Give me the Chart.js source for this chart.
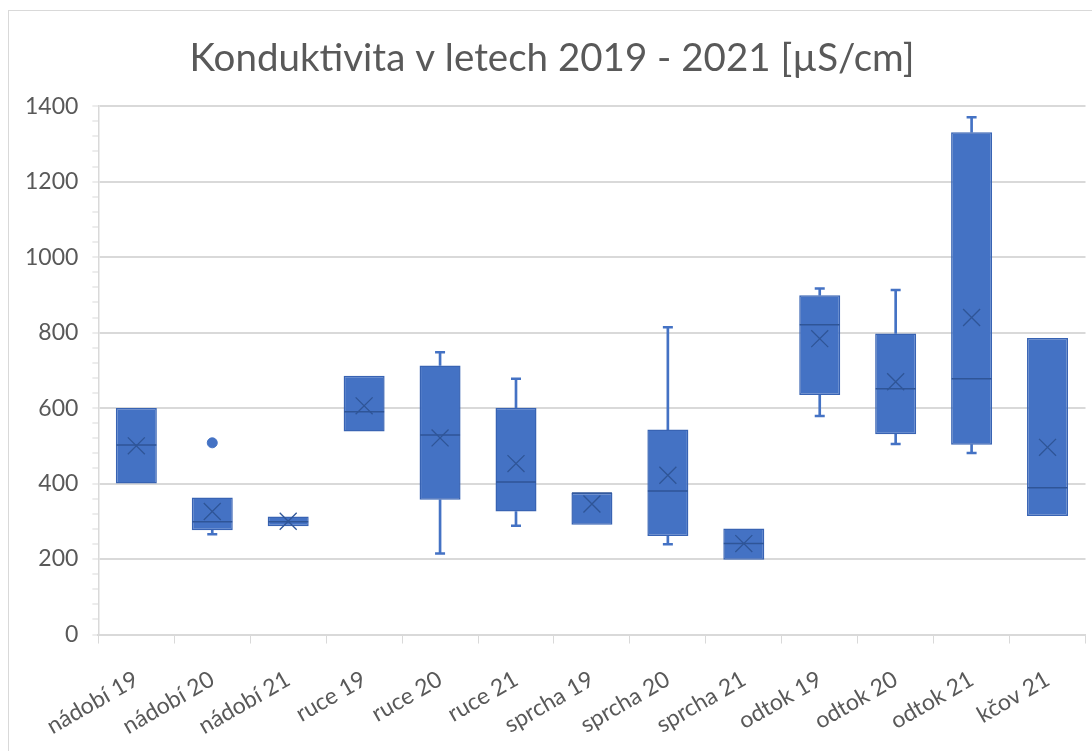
<!DOCTYPE html>
<html>
<head>
<meta charset="utf-8">
<script src="https://cdn.jsdelivr.net/npm/chart.js@4.4.1/dist/chart.umd.min.js"></script>
<style>
  html, body { margin: 0; padding: 0; background: #fff; overflow: hidden; }
  #frame { position: absolute; left: 8px; top: 10px; width: 1200px; height: 900px; border: 1px solid #d9d9d9; }
  #wrap { position: absolute; left: 0; top: 0; width: 1107px; height: 751px; }
</style>
</head>
<body>
<div id="frame"></div>
<div id="wrap"><canvas id="boxChart"></canvas></div>
<script>
// kategorie
const labels = ["nádobí 19", "nádobí 20", "nádobí 21", "ruce 19", "ruce 20", "ruce 21", "sprcha 19",
  "sprcha 20", "sprcha 21", "odtok 19", "odtok 20", "odtok 21", "kčov 21"];

// odečtené hodnoty (µS/cm)
const mins    = [400, 266, 287, 538, 215, 288, 291, 239, 198, 579, 505, 481, 314];
const q1s     = [400, 276, 287, 538, 357, 326, 291, 261, 198, 635, 531, 503, 314];
const medians = [502, 299, 299, 590, 529, 404, 375, 380, 241, 821, 651, 678, 389];
const q3s     = [600, 363, 313, 686, 713, 601, 375, 543, 281, 899, 798, 1331, 786];
const maxs    = [600, 363, 313, 686, 748, 678, 375, 814, 281, 917, 913, 1371, 786];
const means   = [500, 326, 300, 606, 521, 453, 346, 422, 241, 784, 670, 840, 496];
const outliers = [null, 508, null, null, null, null, null, null, null, null, null, null, null];

const yTicks = [0, 200, 400, 600, 800, 1000, 1200, 1400];

const BOX = "#4472C4";
const EDGE = "#3863b3";
const DARK = "#2F5597";
const GRID = "#d9d9d9";
const TEXT = "#595959";

// vousy jen tam, kde je min < q1 resp. max > q3
const lowWhisker = mins.map((m, i) => m < q1s[i] ? [m, q1s[i]] : null);
const highWhisker = maxs.map((m, i) => m > q3s[i] ? [q3s[i], m] : null);
const lowCap = mins.map((m, i) => m < q1s[i] ? m : null);
const highCap = maxs.map((m, i) => m > q3s[i] ? m : null);

const ctx = document.getElementById("boxChart").getContext("2d");

new Chart(ctx, {
  type: "bar",
  data: {
    labels,
    datasets: [
      {
        type: "line", label: "průměr", data: means, showLine: false, order: 0,
        pointStyle: "crossRot", pointRadius: 12, borderColor: DARK, borderWidth: 1.3,
        backgroundColor: DARK
      },
      {
        type: "line", label: "medián", data: medians, showLine: false, order: 0,
        pointStyle: "line", pointRadius: 20, borderColor: DARK, borderWidth: 1.5
      },
      {
        type: "line", label: "odlehlé", data: outliers, showLine: false, order: 0,
        pointStyle: "circle", pointRadius: 5, borderColor: BOX, backgroundColor: BOX, borderWidth: 1
      },
      {
        label: "box", data: q1s.map((q, i) => [q, q3s[i]]), order: 1, grouped: false,
        backgroundColor: BOX, borderColor: EDGE, borderWidth: 1.5, borderSkipped: false,
        barPercentage: 0.54, categoryPercentage: 1
      },
      {
        label: "dolní vous", data: lowWhisker, order: 2, grouped: false,
        backgroundColor: BOX, borderWidth: 0, barThickness: 2
      },
      {
        label: "horní vous", data: highWhisker, order: 2, grouped: false,
        backgroundColor: BOX, borderWidth: 0, barThickness: 2
      },
      {
        type: "line", label: "min", data: lowCap, showLine: false, order: 0,
        pointStyle: "line", pointRadius: 5, borderColor: BOX, borderWidth: 2.5
      },
      {
        type: "line", label: "max", data: highCap, showLine: false, order: 0,
        pointStyle: "line", pointRadius: 5, borderColor: BOX, borderWidth: 2.5
      }
    ]
  },
  options: {
    responsive: true,
    maintainAspectRatio: false,
    animation: false,
    layout: { padding: { left: 11, right: 14, top: 14, bottom: -11 } },
    scales: {
      y: {
        min: 0,
        max: 1400,
        ticks: {
          stepSize: 40,
          autoSkip: false,
          color: TEXT,
          font: { family: "Lato", size: 23 },
          padding: 14,
          callback: v => yTicks.includes(v) ? v : ""
        },
        grid: {
          color: c => yTicks.includes(c.tick.value) ? GRID : "rgba(0,0,0,0)",
          lineWidth: 2,
          tickColor: GRID,
          tickLength: 6,
          tickWidth: 1
        },
        border: { display: true, color: GRID, width: 1.5 }
      },
      x: {
        ticks: {
          color: TEXT,
          font: { family: "Lato", size: 23 },
          minRotation: 30,
          maxRotation: 30,
          padding: 22
        },
        grid: {
          offset: true,
          drawOnChartArea: false,
          tickColor: GRID,
          tickLength: 9,
          tickWidth: 1
        },
        border: { display: true, color: GRID, width: 2 }
      }
    },
    plugins: {
      legend: { display: false },
      tooltip: { enabled: false },
      title: {
        display: true,
        text: "Konduktivita v letech 2019 - 2021 [µS/cm]",
        color: TEXT,
        font: { family: "Lato", size: 38.5, weight: "normal" },
        padding: { top: 21, bottom: 25 }
      }
    }
  }
});
</script>
</body>
</html>
